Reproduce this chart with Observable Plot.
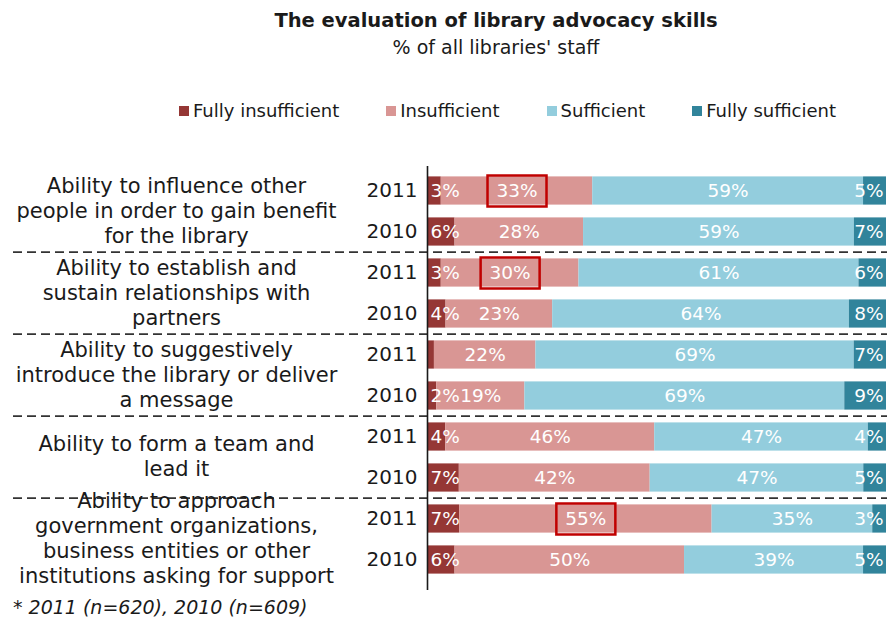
<!DOCTYPE html>
<html><head><meta charset="utf-8">
<script src="https://cdn.jsdelivr.net/npm/d3@7"></script>
<script src="https://cdn.jsdelivr.net/npm/@observablehq/plot@0.6"></script>
<style>
body{margin:0;background:#fff;font-family:"DejaVu Sans",sans-serif;color:#1a1a1a}
#wrap{position:relative;width:887px;height:622px;overflow:hidden}
#head{position:relative;height:140px}
.title{position:absolute;left:496px;top:9px;transform:translateX(-50%);font-weight:bold;font-size:19.5px;white-space:nowrap}
.sub{position:absolute;left:496px;top:36px;transform:translateX(-50%);font-size:19px;white-space:nowrap}
.legend{position:absolute;left:179px;top:100px;display:flex;gap:47px;font-size:18px;white-space:nowrap}
.legend .item{display:flex;align-items:center}
.legend .sw{display:inline-block;width:10px;height:10px;margin-right:4px}
.foot{position:absolute;left:13px;top:596px;font-style:italic;font-size:19px;white-space:nowrap}
svg{display:block}
</style></head>
<body>
<div id="wrap">
  <div id="head">
    <div class="title">The evaluation of library advocacy skills</div>
    <div class="sub">% of all libraries' staff</div>
    <div class="legend" id="legend"></div>
  </div>
  <div id="chart"></div>
  <div class="foot" id="foot"></div>
</div>
<script>
// ---- data ----
const skills = [
  "Ability to influence other\npeople in order to gain benefit\nfor the library",
  "Ability to establish and\nsustain relationships with\npartners",
  "Ability to suggestively\nintroduce the library or deliver\na message",
  "Ability to form a team and\nlead it",
  "Ability to approach\ngovernment organizations,\nbusiness entities or other\ninstitutions asking for support"
];
const years = ["2011", "2010"];
const seriesNames = ["Fully insufficient", "Insufficient", "Sufficient", "Fully sufficient"];
const seriesColors = ["#953735", "#D99694", "#93CDDD", "#31849B"];
// rows in order: skill1 2011, skill1 2010, skill2 2011, ...
const fullyInsufficient = [3, 6, 3, 4, 1.5, 2, 4, 7, 7, 6];
const insufficient      = [33, 28, 30, 23, 22, 19, 46, 42, 55, 50];
const sufficient        = [59, 59, 61, 64, 69, 69, 47, 47, 35, 39];
const fullySufficient   = [5, 7, 6, 8, 7, 9, 4, 5, 3, 5];
const boxedLabels = [
  {skill: 0, year: "2011", series: "Insufficient"},
  {skill: 1, year: "2011", series: "Insufficient"},
  {skill: 4, year: "2011", series: "Insufficient"}
];
const footnote = "* 2011 (n=620), 2010 (n=609)";

// ---- build ----
document.getElementById("foot").textContent = footnote;
const seriesValues = [fullyInsufficient, insufficient, sufficient, fullySufficient];
const rows = [];
skills.forEach((s, g) => years.forEach(y => rows.push(`${g}|${y}`)));
const table = [];
rows.forEach((row, i) => {
  const [g, yr] = row.split("|");
  seriesNames.forEach((s, j) => {
    table.push({
      row, series: s, value: seriesValues[j][i],
      boxed: boxedLabels.some(b => b.skill === +g && b.year === yr && b.series === s)
    });
  });
});

// legend
const leg = document.getElementById("legend");
seriesNames.forEach((s, j) => {
  const it = document.createElement("div");
  it.className = "item";
  it.innerHTML = `<span class="sw" style="background:${seriesColors[j]}"></span><span>${s}</span>`;
  leg.appendChild(it);
});

const W = 887, H = 482, mT = 26, mB = 38, mL = 427, mR = 1;
const step = (H - mT - mB) / rows.length;
const boxSymbol = {draw(ctx) { ctx.rect(-29.5, -15.5, 59, 31); }};
const separatorRows = skills.slice(1).map((s, g) => `${g + 1}|${years[0]}`);
const first = seriesNames[0], last = seriesNames[seriesNames.length - 1];
const lab = d => d.value >= 2 ? `${Math.round(d.value)}%` : "";
const stackOpts = {x: "value", y: "row", z: "series", offset: "normalize"};

const chart = Plot.plot({
  width: W, height: H,
  marginTop: mT, marginBottom: mB, marginLeft: mL, marginRight: mR,
  style: {fontFamily: '"DejaVu Sans", sans-serif', fontSize: "18px", color: "#1a1a1a", background: "white", overflow: "visible"},
  x: {axis: null, domain: [0, 1]},
  y: {axis: null, domain: rows, padding: 0},
  color: {domain: seriesNames, range: seriesColors},
  opacity: {domain: [0, 1], range: [0, 1]},
  marks: [
    Plot.barX(table, Plot.stackX({...stackOpts, fill: "series", insetTop: 6.4, insetBottom: 6.4})),
    // middle series: centred labels
    Plot.text(table, Plot.stackX({...stackOpts,
      text: d => (d.series === first || d.series === last) ? "" : lab(d),
      fill: "white", fontSize: 18.5, lineAnchor: "middle"})),
    // first series: labels kept inside the plot, from the axis
    Plot.text(table, Plot.stackX1({...stackOpts,
      text: d => d.series === first ? lab(d) : "",
      fill: "white", fontSize: 18.5, lineAnchor: "middle", textAnchor: "start", dx: 3})),
    // last series: labels kept inside the plot, up to the right end
    Plot.text(table, Plot.stackX2({...stackOpts,
      text: d => d.series === last ? lab(d) : "",
      fill: "white", fontSize: 18.5, lineAnchor: "middle", textAnchor: "end", dx: -3})),
    Plot.dot(table, Plot.stackX({...stackOpts,
      symbol: boxSymbol, r: 10, fill: "none", stroke: "#C00000", strokeWidth: 2.5,
      strokeOpacity: d => d.boxed ? 1 : 0})),
    Plot.ruleY(separatorRows, {y: d => d, dy: -step / 2, stroke: "#333", strokeWidth: 1.8,
      strokeDasharray: "9,5", insetLeft: -(mL - 13), insetRight: -mR}),
    Plot.ruleX([0], {stroke: "#1a1a1a", strokeWidth: 1.6, insetBottom: -6}),
    Plot.text(rows, {y: d => d, text: d => d.split("|")[1], frameAnchor: "left", dx: -10,
      textAnchor: "end", lineAnchor: "middle", fontSize: 20, fill: "#1a1a1a"}),
    Plot.text(skills, {y: (d, i) => `${i}|${years[0]}`, text: d => d, frameAnchor: "left",
      dx: 176 - mL, dy: step / 2 - 2, textAnchor: "middle", lineAnchor: "middle",
      lineHeight: 1.19, fontSize: 21, fill: "#1a1a1a"})
  ]
});
document.getElementById("chart").appendChild(chart);
</script>
</body></html>
